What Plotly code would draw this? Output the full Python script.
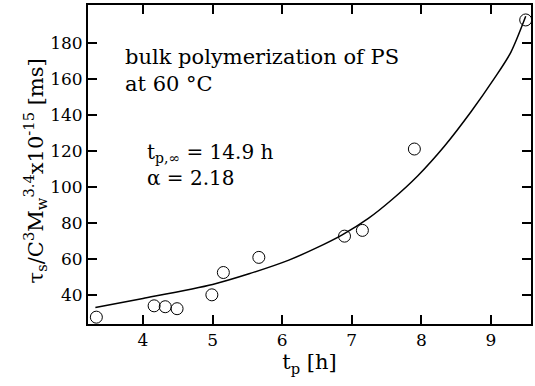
import plotly.graph_objects as go

# measured data
tp = [3.33, 4.16, 4.32, 4.49, 4.99, 5.155, 5.665, 6.896, 7.153, 7.90, 9.50]
ts = [27.9, 34.2, 33.7, 32.6, 40.3, 52.7, 61.1, 72.9, 76.1, 121.3, 193.0]

# fitted curve
curve_t = [3.316, 4.0, 5.0, 5.524, 6.096, 6.477, 6.857, 7.239, 7.571, 7.95, 8.334, 8.714, 9.049, 9.286, 9.5]
curve_y = [33.3, 38.3, 46.1, 52.0, 59.6, 66.1, 73.5, 82.8, 93.0, 106.5, 123.0, 142.0, 160.5, 175.0, 195.0]

x_ticks = [4, 5, 6, 7, 8, 9]
y_ticks = [40, 60, 80, 100, 120, 140, 160, 180]

FONT = "DejaVu Serif"

fig = go.Figure()
fig.add_trace(go.Scatter(x=curve_t, y=curve_y, mode="lines",
                         line=dict(color="black", width=1.5, shape="spline", smoothing=0.8),
                         showlegend=False, hoverinfo="skip"))
fig.add_trace(go.Scatter(x=tp, y=ts, mode="markers",
                         marker=dict(symbol="circle-open", size=12, color="black",
                                     line=dict(width=1, color="black")),
                         showlegend=False))

axis_common = dict(showgrid=False, zeroline=False, ticks="inside", ticklen=9, tickwidth=1.5,
                   tickcolor="black", showline=True, linecolor="black", linewidth=2,
                   mirror="ticks", tickfont=dict(family=FONT, size=17, color="black"))

fig.update_xaxes(range=[3.21, 9.576], tickvals=x_ticks, **axis_common,
                 title=dict(text="t<sub>p</sub> [h]", font=dict(family=FONT, size=21, color="black"),
                            standoff=4))
fig.update_yaxes(range=[24.1, 201.3], tickvals=y_ticks, **axis_common)

fig.add_annotation(xref="paper", yref="paper", x=-0.12, y=0.481, xanchor="center", yanchor="middle",
                   textangle=-90, showarrow=False,
                   text="τ<sub>s</sub>/C<sup>3</sup>M<sub>w</sub><sup>3.4</sup>x10<sup>-15</sup> [ms]",
                   font=dict(family=FONT, size=21, color="black"))

fig.add_annotation(xref="paper", yref="paper", x=0.079, y=0.795, xanchor="left", yanchor="middle",
                   align="left", showarrow=False,
                   text="bulk polymerization of PS<br>at 60 °C",
                   font=dict(family=FONT, size=21, color="black"))

fig.add_annotation(xref="paper", yref="paper", x=0.128, y=0.50, xanchor="left", yanchor="middle",
                   align="left", showarrow=False,
                   text="t<sub>p,∞</sub> = 14.9 h<br>α = 2.18",
                   font=dict(family=FONT, size=20, color="black"))

fig.update_layout(width=535, height=386, margin=dict(l=88, r=2, t=5, b=62),
                  plot_bgcolor="white", paper_bgcolor="white")

fig.write_html("out.html")
